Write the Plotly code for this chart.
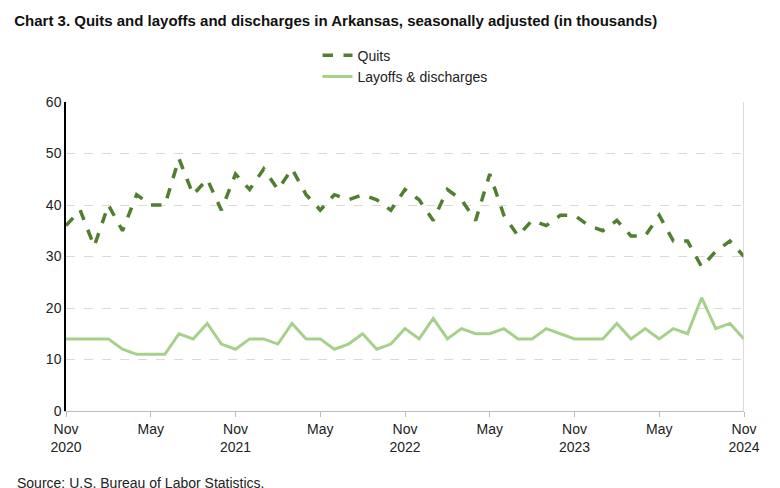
import plotly.graph_objects as go

quits = [36,39,32,40,35,42,40,40,49,42,45,39,46,43,47,43,47,42,39,42,41,42,41,39,43,41,37,43,41,37,46,38,34,37,36,38,38,36,35,37,34,34,38,33,33,28,31,33,30]
layoffs = [14,14,14,14,12,11,11,11,15,14,17,13,12,14,14,13,17,14,14,12,13,15,12,13,16,14,18,14,16,15,15,16,14,14,16,15,14,14,14,17,14,16,14,16,15,22,16,17,14]
x = list(range(len(quits)))
tickvals = [0,6,12,18,24,30,36,42,48]
ticktext = ["Nov<br>2020","May","Nov<br>2021","May","Nov<br>2022","May","Nov<br>2023","May","Nov<br>2024"]

fig = go.Figure()
fig.add_trace(go.Scatter(x=x, y=quits, mode="lines", name="Quits",
                         line=dict(color="#4f7f2f", width=3.5, dash="dash")))
fig.add_trace(go.Scatter(x=x, y=layoffs, mode="lines", name="Layoffs & discharges",
                         line=dict(color="#a6d18a", width=3)))
fig.update_layout(
    width=780, height=488, plot_bgcolor="white", paper_bgcolor="white",
    font=dict(family="Liberation Sans, Arial", size=14, color="#222"),
    title=dict(text="<b>Chart 3. Quits and layoffs and discharges in Arkansas, seasonally adjusted (in thousands)</b>",
               x=0.008, xanchor="left", y=0.985, yanchor="top", font=dict(size=15, color="#111")),
    legend=dict(x=0.5, xanchor="center", y=1.03, yanchor="bottom", orientation="v",
                font=dict(size=14), tracegroupgap=0, bgcolor="rgba(0,0,0,0)"),
    margin=dict(l=58, r=44, t=94, b=85, autoexpand=False),
    showlegend=True,
    annotations=[dict(text="Source: U.S. Bureau of Labor Statistics.", xref="paper", yref="paper",
                      x=-0.075, y=-0.2, xanchor="left", yanchor="top", showarrow=False,
                      font=dict(size=14))],
)
fig.update_xaxes(range=[0,48], tickvals=tickvals, ticktext=ticktext, showgrid=False,
                 showline=True, linecolor="#bbb", ticks="outside", tickcolor="#bbb", ticklen=5,
                 zeroline=False)
fig.update_yaxes(range=[0,60], dtick=10, showgrid=True, gridcolor="#d9d9d9", griddash="dash",
                 showline=True, linecolor="black", linewidth=1.5, zeroline=False)
fig.add_shape(type="line", xref="x", yref="paper", x0=48, x1=48, y0=0, y1=1,
              line=dict(color="#d0d0d0", width=1.5))
fig.write_html("out.html")
